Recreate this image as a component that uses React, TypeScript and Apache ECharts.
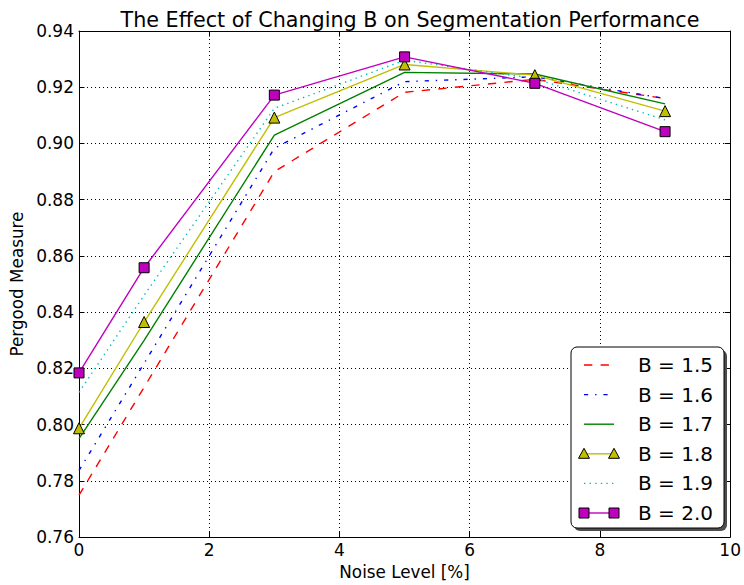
import React, { useEffect, useRef } from "react";
import * as echarts from "echarts";

const xValues = [0, 1, 3, 5, 7, 9];
const seriesNames = ["B = 1.5", "B = 1.6", "B = 1.7", "B = 1.8", "B = 1.9", "B = 2.0"];
const b15 = [0.7749, 0.8133, 0.8900, 0.9182, 0.9228, 0.9160];
const b16 = [0.7837, 0.8218, 0.8983, 0.9220, 0.9237, 0.9160];
const b17 = [0.7950, 0.8300, 0.9030, 0.9253, 0.9247, 0.9141];
const b18 = [0.7987, 0.8365, 0.9092, 0.9281, 0.9243, 0.9115];
const b19 = [0.8115, 0.8460, 0.9125, 0.9296, 0.9231, 0.9084];
const b20 = [0.8184, 0.8558, 0.9172, 0.9308, 0.9214, 0.9042];

const FONT = "DejaVu Sans";

const styles = [
  { color: "#ff0000", dash: [8.3, 8.3] as any, marker: null as string | null },
  { color: "#0000ff", dash: [4.2, 6.9, 1.4, 6.9] as any, marker: null },
  { color: "#008000", dash: "solid" as any, marker: null },
  { color: "#bfbf00", dash: "solid" as any, marker: "triangle" },
  { color: "#00bfbf", dash: [1.4, 4.2] as any, marker: null },
  { color: "#bf00bf", dash: "solid" as any, marker: "rect" },
];

export default function App() {
  const ref = useRef<HTMLDivElement>(null);
  useEffect(() => {
    if (!ref.current) return;
    const chart = echarts.init(ref.current, null, { renderer: "svg" });
    const allData = [b15, b16, b17, b18, b19, b20];
    const series = allData.map((vals, i) => {
      const s = styles[i];
      const o: any = {
        name: seriesNames[i],
        type: "line",
        data: vals.map((v, j) => [xValues[j], v]),
        symbol: s.marker || "none",
        symbolSize: s.marker === "triangle" ? 11 : 10,
        lineStyle: { color: s.color, width: 1.4, type: s.dash },
        itemStyle: s.marker
          ? { color: s.color, borderColor: "#000", borderWidth: 1 }
          : { color: s.color },
        z: 3 + i,
      };
      return o;
    });

    // legend drawn as graphic (matplotlib style)
    const lgX = 571, lgY = 347, lgW = 153, lgH = 181;
    const legendEls: any[] = [
      { type: "rect", shape: { x: lgX + 3, y: lgY + 3, width: lgW, height: lgH, r: 6 }, style: { fill: "#4d4d4d" }, z: 100 },
      { type: "rect", shape: { x: lgX, y: lgY, width: lgW, height: lgH, r: 6 }, style: { fill: "#fff", stroke: "#000", lineWidth: 1 }, z: 101 },
    ];
    seriesNames.forEach((name, i) => {
      const s = styles[i];
      const cy = 365 + i * 29.6;
      legendEls.push({
        type: "line",
        shape: { x1: 584, y1: cy, x2: 614, y2: cy },
        style: { stroke: s.color, lineWidth: 1.4, lineDash: s.dash === "solid" ? null : s.dash },
        z: 102,
      });
      if (s.marker === "triangle") {
        [584, 614].forEach((mx) => {
          legendEls.push({
            type: "polygon",
            shape: { points: [[mx, cy - 5.5], [mx - 5.5, cy + 4.5], [mx + 5.5, cy + 4.5]] },
            style: { fill: s.color, stroke: "#000", lineWidth: 1 },
            z: 103,
          });
        });
      } else if (s.marker === "rect") {
        [584, 614].forEach((mx) => {
          legendEls.push({
            type: "rect",
            shape: { x: mx - 5, y: cy - 5, width: 10, height: 10 },
            style: { fill: s.color, stroke: "#000", lineWidth: 1 },
            z: 103,
          });
        });
      }
      legendEls.push({
        type: "text",
        x: 638,
        y: cy,
        style: { text: name, fontFamily: FONT, fontSize: 20, fill: "#000", verticalAlign: "middle", align: "left" },
        z: 103,
      });
    });

    const axisCommon = {
      axisLine: { show: true, onZero: false, lineStyle: { color: "#000", width: 1 } },
      axisTick: { show: true, inside: true, length: 5.5, lineStyle: { color: "#000" } },
    };
    const option: any = {
      animation: false,
      backgroundColor: "#fff",
      textStyle: { fontFamily: FONT },
      title: {
        text: "The Effect of Changing B on Segmentation Performance",
        left: 405,
        textAlign: "center",
        top: 4,
        textStyle: { fontFamily: FONT, fontSize: 20.7, fontWeight: "normal", color: "#000" },
      },
      grid: { left: 79, right: 13, top: 31, bottom: 46 },
      xAxis: [
        {
          type: "value",
          min: 0,
          max: 10,
          interval: 2,
          name: "Noise Level [%]",
          nameLocation: "middle",
          nameGap: 23,
          nameTextStyle: { fontFamily: FONT, fontSize: 16.8, color: "#000" },
          axisLabel: { fontFamily: FONT, fontSize: 17, color: "#000", margin: 4 },
          splitLine: { show: true, lineStyle: { color: "#000", type: [1, 3], width: 1 } },
          ...axisCommon,
        },
        {
          type: "value",
          position: "top",
          min: 0,
          max: 10,
          interval: 2,
          axisLabel: { show: false },
          splitLine: { show: false },
          ...axisCommon,
        },
      ],
      yAxis: [
        {
          type: "value",
          min: 0.76,
          max: 0.94,
          interval: 0.02,
          name: "Pergood Measure",
          nameLocation: "middle",
          nameGap: 51,
          nameTextStyle: { fontFamily: FONT, fontSize: 16.8, color: "#000" },
          axisLabel: {
            fontFamily: FONT,
            fontSize: 17,
            color: "#000",
            margin: 5,
            formatter: (v: number) => v.toFixed(2),
          },
          splitLine: { show: true, lineStyle: { color: "#000", type: [1, 3], width: 1 } },
          ...axisCommon,
        },
        {
          type: "value",
          position: "right",
          min: 0.76,
          max: 0.94,
          interval: 0.02,
          axisLabel: { show: false },
          splitLine: { show: false },
          ...axisCommon,
        },
      ],
      series,
      graphic: legendEls,
    };
    chart.setOption(option);
    return () => chart.dispose();
  }, []);
  return <div ref={ref} style={{ width: 744, height: 585, position: "absolute", left: 0, top: 0 }} />;
}
